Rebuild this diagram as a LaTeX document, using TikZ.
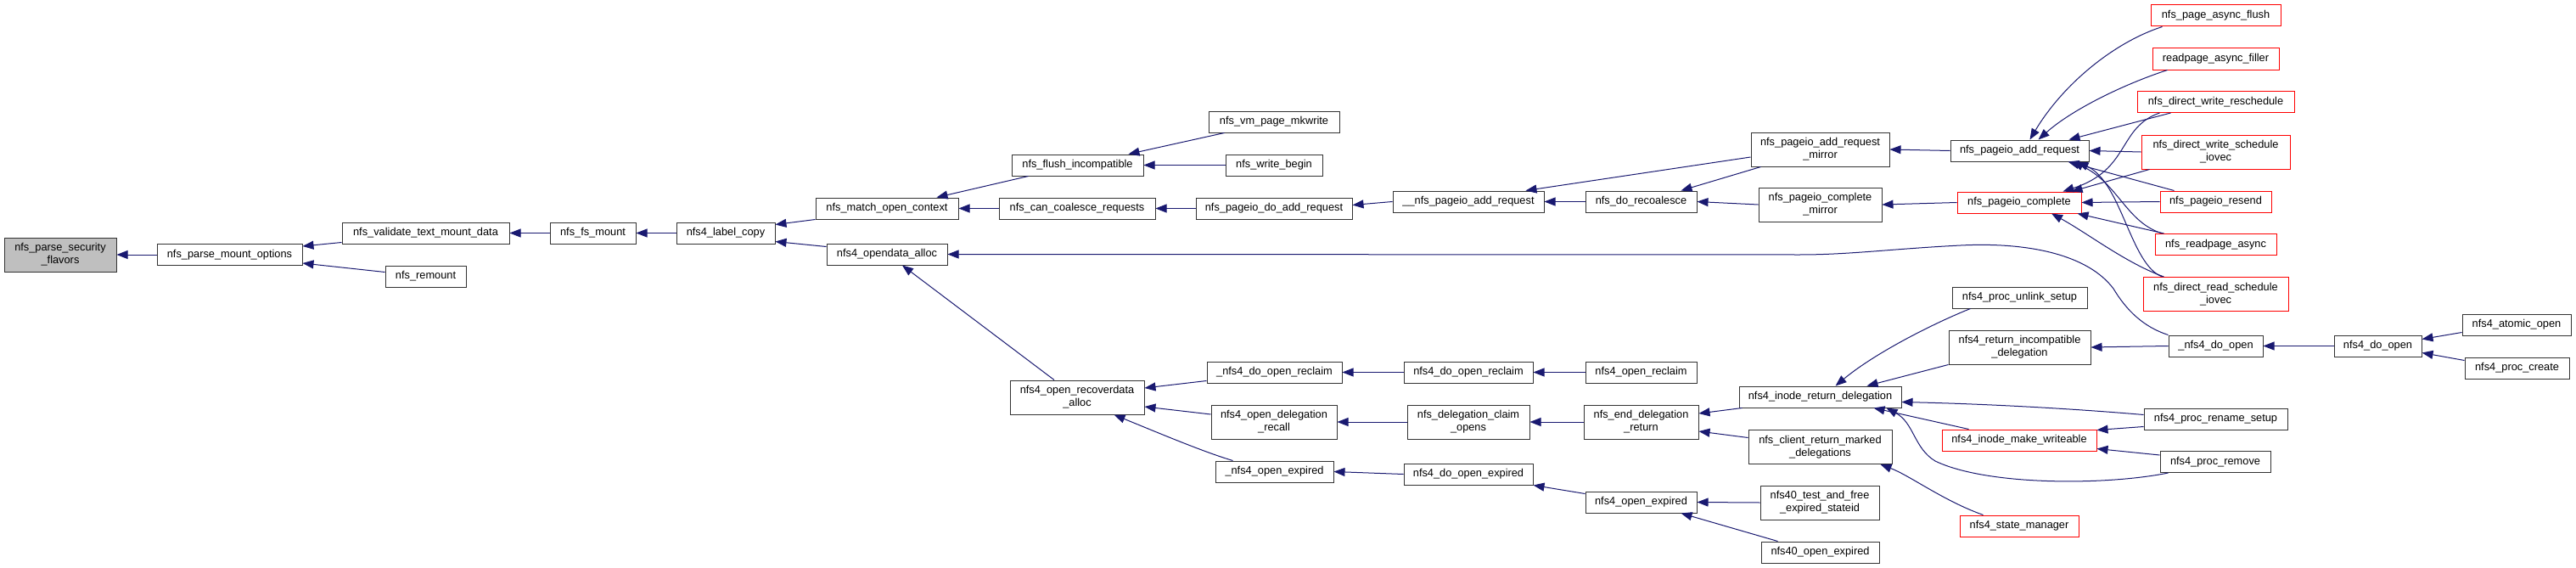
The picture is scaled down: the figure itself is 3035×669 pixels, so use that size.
\documentclass[tikz,border=0pt]{standalone}
\usepackage{fontspec}
\setmainfont{Liberation Sans}
\usepackage{tikz}
\usetikzlibrary{arrows.meta, calc}

\definecolor{edgeblue}{HTML}{191970}
\definecolor{rootgray}{HTML}{BFBFBF}

\begin{document}
\begin{tikzpicture}[
  x=1pt, y=-1pt,
  fn/.style={draw=black!80, line width=1pt, fill=white, minimum height=25pt,
             inner sep=0pt, align=center, font=\fontsize{12.8}{15}\selectfont},
  wd/.style={minimum width=#1pt},
  two/.style={minimum height=40pt},
  hot/.style={draw=red},
  root/.style={fill=rootgray},
  call/.style={-{Triangle[length=13pt,width=10pt]}, draw=edgeblue, line width=1pt},
]
  \useasboundingbox (0,0) rectangle (3035,669);

  % ── Column 0-4: mount path ──
  \node[fn, root, two, wd=132] (flav) at (71,300)    {nfs\_parse\_security\\\_flavors};
  \node[fn, wd=171]            (pmo)  at (270.5,300) {nfs\_parse\_mount\_options};
  \node[fn, wd=197]            (vtmd) at (501.5,274.5) {nfs\_validate\_text\_mount\_data};
  \node[fn, wd=95]             (rem)  at (501.5,325.5) {nfs\_remount};
  \node[fn, wd=101]            (fsm)  at (698.5,274.5) {nfs\_fs\_mount};
  \node[fn, wd=116]            (lcp)  at (855,274.5)   {nfs4\_label\_copy};

  % ── Column 5 ──
  \node[fn, wd=168]            (moc)  at (1045,245.5)  {nfs\_match\_open\_context};
  \node[fn, wd=142]            (oda)  at (1045,299.5)  {nfs4\_opendata\_alloc};

  % ── Column 6 ──
  \node[fn, wd=155]            (fi)   at (1269.5,194.5) {nfs\_flush\_incompatible};
  \node[fn, wd=184]            (ccr)  at (1269,245.5)   {nfs\_can\_coalesce\_requests};
  \node[fn, two, wd=158]       (ora)  at (1269,468)     {nfs4\_open\_recoverdata\\\_alloc};

  % ── Column 7 ──
  \node[fn, wd=154]            (vpm)  at (1501,143.5)   {nfs\_vm\_page\_mkwrite};
  \node[fn, wd=114]            (wb)   at (1501,194.5)   {nfs\_write\_begin};
  \node[fn, wd=184]            (pdar) at (1501,245.5)   {nfs\_pageio\_do\_add\_request};
  \node[fn, wd=159]            (ndor) at (1501.5,438.5) {\_nfs4\_do\_open\_reclaim};
  \node[fn, two, wd=148]       (odr)  at (1501,497)     {nfs4\_open\_delegation\\\_recall};
  \node[fn, wd=139]            (noex) at (1501.5,555.5) {\_nfs4\_open\_expired};

  % ── Column 8 ──
  \node[fn, wd=178]            (upar) at (1730,237.5)   {\_\_nfs\_pageio\_add\_request};
  \node[fn, wd=152]            (dor)  at (1730,438.5)   {nfs4\_do\_open\_reclaim};
  \node[fn, two, wd=144]       (dco)  at (1730,497)     {nfs\_delegation\_claim\\\_opens};
  \node[fn, wd=152]            (doe)  at (1730,558.5)   {nfs4\_do\_open\_expired};

  % ── Column 9 ──
  \node[fn, wd=131]            (nrc)  at (1933.5,237.5) {nfs\_do\_recoalesce};
  \node[fn, wd=131]            (orc)  at (1933.5,438.5) {nfs4\_open\_reclaim};
  \node[fn, two, wd=135]       (edr)  at (1933.5,497)   {nfs\_end\_delegation\\\_return};
  \node[fn, wd=131]            (oex)  at (1933.5,591.5) {nfs4\_open\_expired};

  % ── Column 10 ──
  \node[fn, two, wd=163]       (arm)  at (2144.5,176)   {nfs\_pageio\_add\_request\\\_mirror};
  \node[fn, two, wd=145]       (cmr)  at (2144.5,241)   {nfs\_pageio\_complete\\\_mirror};
  \node[fn, wd=191]            (ird)  at (2144.5,467.5) {nfs4\_inode\_return\_delegation};
  \node[fn, two, wd=169]       (crm)  at (2144.5,526.5) {nfs\_client\_return\_marked\\\_delegations};
  \node[fn, two, wd=140]       (tfs)  at (2144,592)     {nfs40\_test\_and\_free\\\_expired\_stateid};
  \node[fn, wd=139]            (n40)  at (2144.5,650.5) {nfs40\_open\_expired};

  % ── Column 11 ──
  \node[fn, wd=163]            (par)  at (2379.5,177.5) {nfs\_pageio\_add\_request};
  \node[fn, hot, wd=146]       (pco)  at (2379,238.5)   {nfs\_pageio\_complete};
  \node[fn, wd=159]            (pus)  at (2379.5,350.5) {nfs4\_proc\_unlink\_setup};
  \node[fn, two, wd=167]       (rid)  at (2379.5,409)   {nfs4\_return\_incompatible\\\_delegation};
  \node[fn, hot, wd=182]       (imw)  at (2379,518.5)   {nfs4\_inode\_make\_writeable};
  \node[fn, hot, wd=140]       (nsm)  at (2379,619.5)   {nfs4\_state\_manager};

  % ── Column 12 ──
  \node[fn, hot, wd=153]       (paf)  at (2610.5,18.5)  {nfs\_page\_async\_flush};
  \node[fn, hot, wd=149]       (raf)  at (2610.5,69.5)  {readpage\_async\_filler};
  \node[fn, hot, wd=185]       (dwr)  at (2610.5,120)   {nfs\_direct\_write\_reschedule};
  \node[fn, hot, two, wd=175]  (dws)  at (2610.5,179)   {nfs\_direct\_write\_schedule\\\_iovec};
  \node[fn, hot, wd=131]       (prs)  at (2610.5,237.5) {nfs\_pageio\_resend};
  \node[fn, hot, wd=143]       (rpa)  at (2610.5,288)   {nfs\_readpage\_async};
  \node[fn, hot, two, wd=171]  (drs)  at (2610.5,346.5) {nfs\_direct\_read\_schedule\\\_iovec};
  \node[fn, wd=111]            (ndo)  at (2610.5,407.5) {\_nfs4\_do\_open};
  \node[fn, wd=169]            (ren)  at (2610.5,493.5) {nfs4\_proc\_rename\_setup};
  \node[fn, wd=130]            (rmv)  at (2610,544)     {nfs4\_proc\_remove};

  % ── Columns 13-14 ──
  \node[fn, wd=103]            (fdo)  at (2801.5,407.5) {nfs4\_do\_open};
  \node[fn, wd=128]            (aop)  at (2965,382.5)   {nfs4\_atomic\_open};
  \node[fn, wd=123]            (pcr)  at (2965.5,433.5) {nfs4\_proc\_create};

  % ══ Calls (caller → callee) ══

  % mount path
  \draw[call] (pmo.west) -- (flav.east);
  \draw[call] ([yshift=-11pt]vtmd.west) -- ([yshift=10pt]pmo.east);
  \draw[call] ([yshift=5pt]rem.west) -- ([yshift=-10pt]pmo.east);
  \draw[call] (fsm.west) -- (vtmd.east);
  \draw[call] (lcp.west) -- (fsm.east);
  \draw[call] (moc.south west) -- ([yshift=10pt]lcp.east);
  \draw[call] ([yshift=9pt]oda.west) -- ([yshift=-10pt]lcp.east);

  % open context / coalesce
  \draw[call] ([xshift=20pt]fi.south west) -- ([xshift=-26pt]moc.north east);
  \draw[call] (ccr.west) -- (moc.east);
  \draw[call] ([xshift=19pt]vpm.south west) -- ([xshift=60pt]fi.north);
  \draw[call] (wb.west) -- (fi.east);
  \draw[call] (pdar.west) -- (ccr.east);
  \draw[call] (upar.west) -- ([yshift=4pt]pdar.east);
  \draw[call] (nrc.west) -- (upar.east);
  \draw[call] ([yshift=-9pt]arm.west) -- ([xshift=-22pt]upar.north east);
  \draw[call] ([xshift=12pt]arm.south west) -- ([xshift=-19pt]nrc.north east);
  \draw[call] (cmr.west) -- (nrc.east);
  \draw[call] (par.west) -- (arm.east);
  \draw[call] (pco.west) -- (cmr.east);

  % opendata / recover
  \draw[call] ([xshift=-27pt]ora.north) -- ([xshift=18pt]oda.south);
  \draw[call] (ndo.north west) .. controls (2525,385) and (2505,365) .. (2490,340)
    .. controls (2460,300) and (2390,285) .. (2310,289)
    .. controls (2230,293) and (2180,300) .. (2120,300) -- (oda.east);
  \draw[call] ([yshift=-10pt]ndor.west) -- ([yshift=11pt]ora.east);
  \draw[call] ([yshift=9pt]odr.west) -- ([yshift=-11pt]ora.east);
  \draw[call] ([xshift=21pt]noex.north west) .. controls (1420,533) and (1370,512)
    .. ([xshift=-36pt]ora.south east);
  \draw[call] (dor.west) -- (ndor.east);
  \draw[call] (orc.west) -- (dor.east);
  \draw[call] (dco.west) -- (odr.east);
  \draw[call] (edr.west) -- (dco.east);
  \draw[call] (doe.west) -- (noex.east);
  \draw[call] ([yshift=10pt]oex.west) -- (doe.south east);

  % delegations
  \draw[call] ([xshift=4pt]ird.south west) -- ([yshift=10pt]edr.east);
  \draw[call] ([yshift=11pt]crm.west) -- ([yshift=-11pt]edr.east);
  \draw[call] (tfs.west) -- (oex.east);
  \draw[call] ([xshift=20pt]n40.north west) -- ([xshift=-19pt]oex.south east);
  \draw[call] ([xshift=22pt]pus.south west) .. controls (2280,380) and (2210,415)
    .. ([xshift=18pt]ird.north);
  \draw[call] (rid.south west) -- ([xshift=55pt]ird.north);
  \draw[call] ([yshift=5pt]ren.west) .. controls (2450,482) and (2350,476)
    .. ([yshift=-6pt]ird.east);
  \draw[call] ([xshift=32pt]imw.north west) -- ([xshift=63pt]ird.south);
  \draw[call] ([xshift=10pt]rmv.south west) .. controls (2480,572) and (2340,572) .. (2280,543)
    .. controls (2255,528) and (2255,498) .. ([xshift=-18pt]ird.south east);
  \draw[call] ([xshift=28pt]nsm.north west) .. controls (2290,590) and (2250,560)
    .. ([xshift=-14pt]crm.south east);
  \draw[call] ([yshift=-9pt]ren.west) -- ([yshift=12pt]imw.east);
  \draw[call] ([yshift=8pt]rmv.west) -- ([yshift=-10pt]imw.east);

  % open path
  \draw[call] (ndo.west) -- (rid.east);
  \draw[call] (fdo.west) -- (ndo.east);
  \draw[call] ([yshift=-9pt]aop.west) -- ([yshift=8pt]fdo.east);
  \draw[call] ([yshift=9pt]pcr.west) -- ([yshift=-8pt]fdo.east);

  % pageio callers
  \draw[call] ([xshift=14pt]paf.south west) .. controls (2490,50) and (2430,100)
    .. ([xshift=12pt]par.north);
  \draw[call] ([xshift=18pt]raf.south west) .. controls (2500,100) and (2440,130)
    .. ([xshift=22pt]par.north);
  \draw[call] ([xshift=40pt]dwr.south west) -- ([xshift=-24pt]par.north east);
  \draw[call] ([xshift=27pt]dwr.south west) .. controls (2495,150) and (2510,200)
    .. ([xshift=-22pt]pco.north east);
  \draw[call] (dws.west) -- (par.east);
  \draw[call] ([xshift=10pt]dws.south west) -- ([xshift=-12pt]pco.north east);
  \draw[call] ([xshift=17pt]prs.north west) -- ([xshift=-25pt]par.south east);
  \draw[call] (prs.west) -- (pco.east);
  \draw[call] ([xshift=9pt]rpa.north west) .. controls (2505,262) and (2495,215)
    .. ([xshift=-20pt]par.south east);
  \draw[call] ([xshift=11pt]rpa.north west) -- ([xshift=-5pt]pco.south east);
  \draw[call] ([xshift=23pt]drs.north west) .. controls (2510,312) and (2500,215)
    .. ([xshift=-14pt]par.south east);
  \draw[call] ([xshift=25pt]drs.north west) .. controls (2505,310) and (2460,275)
    .. ([xshift=38pt]pco.south);

\end{tikzpicture}
\end{document}
